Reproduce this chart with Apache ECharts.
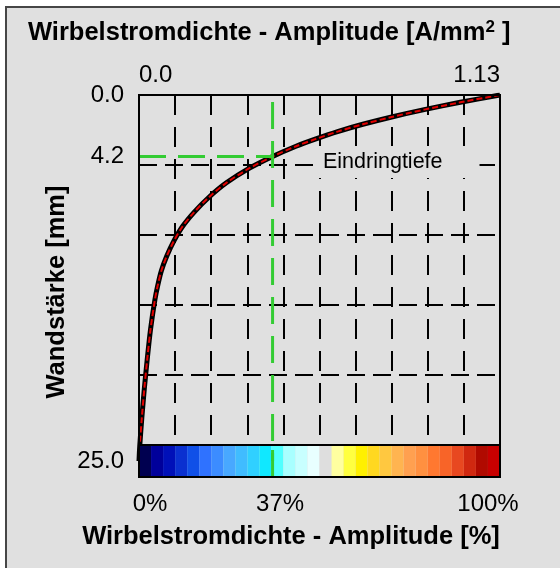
<!DOCTYPE html>
<html>
<head>
<meta charset="utf-8">
<script src="https://cdn.jsdelivr.net/npm/echarts@6/dist/echarts.min.js"></script>
<style>
  html, body { margin: 0; padding: 0; background: #ffffff; }
  #wrap { position: relative; width: 560px; height: 568px; overflow: hidden; }
  #panel { position: absolute; left: 5px; top: 6px; right: -10px; bottom: -10px;
           background: #e0e0e0; border-left: 2px solid #464646; border-top: 2px solid #464646; }
  #chart { position: absolute; left: 0; top: 0; width: 560px; height: 568px; }
</style>
</head>
<body>
<div id="wrap"><div id="panel"></div><div id="chart"></div></div>
<script>
// Eddy-current density amplitude over the wall thickness
const depthMm      = [0, 0.5, 1.0, 1.5, 2.0, 2.5, 3.0, 3.5, 4.2, 5.0, 6.0, 7.0, 8.0, 9.0, 10.0, 11.0, 12.0, 13.0, 14.0, 16.0, 18.0, 20.0, 22.0, 24.0, 25.0];
const amplitudePct = [100, 89, 79, 70, 62, 55, 49, 43.5, 37, 30.6, 24.2, 19.3, 15.3, 12.0, 9.6, 7.7, 6.2, 5.2, 4.4, 3.2, 2.3, 1.5, 0.8, 0.2, 0];

// penetration depth marker
const penetrationDepth = 4.2;
const penetrationPct = 37;

// tick labels
const topTickValues = [0, 1.13];          // A/mm²
const leftTickValues = [0, penetrationDepth, 25];
const bottomTickValues = [0, penetrationPct, 100];

// colour scale steps (0 % ... 100 %)
const scaleSteps = ['s01','s02','s03','s04','s05','s06','s07','s08','s09','s10',
                    's11','s12','s13','s14','s15','s16','s17','s18','s19','s20',
                    's21','s22','s23','s24','s25','s26','s27','s28','s29','s30'];
const scalePalette = ['#000050','#00009a','#0010b8','#0a30d0','#1050e8','#2f72ff','#3c8cff','#48a8ff','#40bcff','#30d0ff',
                      '#10e8ff','#50ffff','#a8ffff','#c8ffff','#e8ffff','#dedede','#ffffa0','#ffff40','#fff000','#ffd820',
                      '#ffc840','#ffb450','#ffa050','#ff9040','#ff7830','#f86428','#e84820','#d02810','#b00a00','#c80000'];

const FONT = 'Liberation Sans, Arial, sans-serif';
const LABEL_SIZE = 24, TITLE_SIZE = 25.5;
const PL = 139, PT = 95, PW = 361, PH = 350, CBH = 32;
const depthSpan = 366;   // pixel height spanned by 0 … 25 mm

const curve = amplitudePct.map((a, i) => [a, depthMm[i]]);

const chart = echarts.init(document.getElementById('chart'), null, { renderer: 'canvas' });

const gridDash = { color: '#000', width: 2 };
const lbl = { fontFamily: FONT, fontSize: LABEL_SIZE, color: '#000' };

chart.setOption({
  backgroundColor: 'transparent',
  animation: false,
  grid: [
    { left: PL, top: PT, width: PW, height: PH, show: false },
    { left: PL, top: PT, width: PW, height: depthSpan, show: false },
    { left: PL, top: PT + PH, width: PW, height: CBH, show: false }
  ],
  xAxis: [
    { gridIndex: 0, type: 'value', min: 0, max: 100, interval: 10,
      axisLine: { show: false }, axisTick: { show: false }, axisLabel: { show: false },
      splitLine: { show: true, showMinLine: false, showMaxLine: false,
                   lineStyle: Object.assign({ type: [20, 12] }, gridDash) } },
    { gridIndex: 0, type: 'value', position: 'top', min: 0, max: 1.13,
      axisLine: { show: false }, axisTick: { show: false }, splitLine: { show: false },
      axisLabel: Object.assign({ customValues: topTickValues, margin: 8,
                   alignMinLabel: 'left', alignMaxLabel: 'right',
                   formatter: v => v === 0 ? '0.0' : v.toFixed(2) }, lbl) },
    { gridIndex: 1, type: 'value', min: 0, max: 100, show: false },
    { gridIndex: 2, type: 'category', data: scaleSteps, show: false, position: 'top' },
    { gridIndex: 2, type: 'value', min: 0, max: 100, position: 'bottom',
      axisLine: { show: false }, axisTick: { show: false }, splitLine: { show: false },
      axisLabel: Object.assign({ customValues: bottomTickValues, margin: 15,
                   formatter: v => '{p' + v + '|' + v + '%}',
                   rich: {
                     p0:   Object.assign({ padding: [0, 0, 0, 22] }, lbl),
                     p37:  Object.assign({ padding: [0, 0, 0, 15] }, lbl),
                     p100: Object.assign({ padding: [0, 24, 0, 0] }, lbl)
                   } }, lbl) }
  ],
  yAxis: [
    { gridIndex: 0, type: 'value', min: 0, max: 5, interval: 1,
      axisLine: { show: false }, axisTick: { show: false }, axisLabel: { show: false },
      splitLine: { show: true, showMinLine: false, showMaxLine: false,
                   lineStyle: Object.assign({ type: [18, 8] }, gridDash) } },
    { gridIndex: 1, type: 'value', inverse: true, min: 0, max: 25,
      axisLine: { show: false }, axisTick: { show: false }, splitLine: { show: false },
      axisLabel: Object.assign({ customValues: leftTickValues, margin: 15,
                   formatter: v => v.toFixed(1) }, lbl) },
    { gridIndex: 2, type: 'value', min: 0, max: 1, show: false }
  ],
  series: [
    { type: 'line', xAxisIndex: 2, yAxisIndex: 1, data: curve, symbol: 'none', smooth: 0.3,
      lineStyle: { color: '#000', width: 5 }, z: 3, silent: true },
    { type: 'line', xAxisIndex: 2, yAxisIndex: 1, data: curve, symbol: 'none', smooth: 0.3,
      lineStyle: { color: '#e00000', width: 2, type: [6, 3] }, z: 4, silent: true },
    { type: 'bar', xAxisIndex: 3, yAxisIndex: 2, barWidth: '100%', barCategoryGap: 0,
      data: scaleSteps.map((s, i) => ({ value: 1, itemStyle: { color: scalePalette[i] } })),
      z: 5, silent: true },
    { type: 'line', xAxisIndex: 2, yAxisIndex: 1, symbol: 'none',
      data: [[0, penetrationDepth], [penetrationPct, penetrationDepth]],
      lineStyle: { color: '#33cc33', width: 3, type: [27, 12] }, z: 6, silent: true },
    { type: 'line', xAxisIndex: 2, yAxisIndex: 1, symbol: 'none',
      data: [[penetrationPct, 0], [penetrationPct, 25]],
      lineStyle: { color: '#33cc33', width: 3, type: [27, 12], dashOffset: 32 }, z: 6, silent: true },
    { type: 'line', xAxisIndex: 4, yAxisIndex: 2, symbol: 'none',
      data: [[penetrationPct, 1], [penetrationPct, 0]],
      lineStyle: { color: '#33cc33', width: 3, type: [27, 12], dashOffset: 34 }, z: 7, silent: true }
  ],
  graphic: [
    { type: 'text', left: 28, top: 19, z: 10,
      style: { text: '{a|Wirbelstromdichte - Amplitude [A/mm}{s|2}{a| ]}',
               rich: { a: { fontFamily: FONT, fontSize: TITLE_SIZE, fontWeight: 'bold', fill: '#000', lineHeight: 28 },
                       s: { fontFamily: FONT, fontSize: 17, fontWeight: 'bold', fill: '#000', verticalAlign: 'top', lineHeight: 17 } } } },
    { type: 'text', x: 57, y: 292, rotation: Math.PI / 2, z: 10,
      style: { text: 'Wandstärke [mm]', fontFamily: FONT, fontSize: TITLE_SIZE, fontWeight: 'bold', fill: '#000',
               align: 'center', verticalAlign: 'middle' } },
    { type: 'text', x: 291, y: 537, z: 10,
      style: { text: 'Wirbelstromdichte - Amplitude [%]', fontFamily: FONT, fontSize: TITLE_SIZE, fontWeight: 'bold', fill: '#000',
               align: 'center', verticalAlign: 'middle' } },
    { type: 'text', x: 313, y: 162, z: 1,
      style: { text: 'Eindringtiefe', fontFamily: FONT, fontSize: 21.5, fill: '#000',
               verticalAlign: 'middle', backgroundColor: '#e0e0e0', padding: [5, 37, 5, 10] } },
    { type: 'rect', z: 20, silent: true,
      shape: { x: PL, y: PT, width: PW, height: PH + CBH },
      style: { fill: 'none', stroke: '#000', lineWidth: 2 } },
    { type: 'line', z: 20, silent: true,
      shape: { x1: PL, y1: PT + PH, x2: PL + PW, y2: PT + PH },
      style: { stroke: '#000', lineWidth: 2 } }
  ]
});
</script>
</body>
</html>
